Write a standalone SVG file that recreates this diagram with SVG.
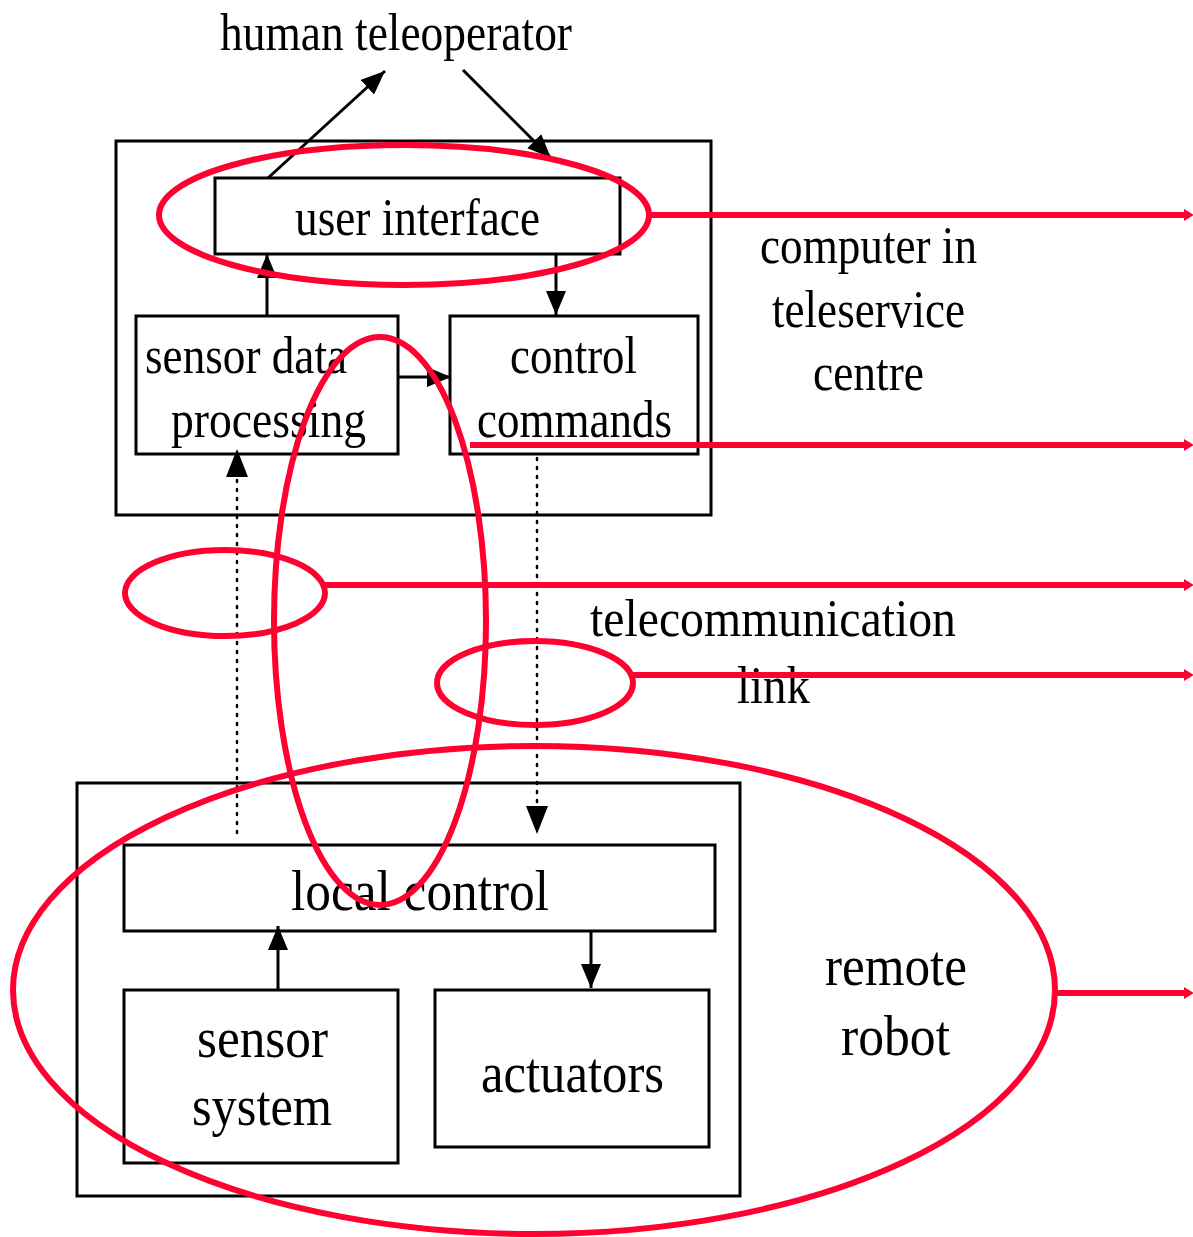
<svg xmlns="http://www.w3.org/2000/svg" width="1193" height="1237" viewBox="0 0 1193 1237">
<style>
.box{fill:none;stroke:#000;stroke-width:3}
.ln{fill:none;stroke:#000;stroke-width:3}
.dot{fill:none;stroke:#000;stroke-width:2.5;stroke-dasharray:2 7;stroke-linecap:round}
.red{fill:none;stroke:#ff0030;stroke-width:6}
.t{font-family:"Liberation Serif","Times New Roman",serif;font-size:52px;fill:#000}
.b{font-size:56px}
</style>
<defs>
<marker id="ah" viewBox="0 0 24 20" refX="24" refY="10" markerWidth="24" markerHeight="20" markerUnits="userSpaceOnUse" orient="auto"><path d="M0,0 L24,10 L0,20 Z" fill="#000"/></marker>
<marker id="rh" viewBox="0 0 10 12" refX="2" refY="6" markerWidth="10" markerHeight="12" markerUnits="userSpaceOnUse" orient="auto"><path d="M0,0 L10,6 L0,12 Z" fill="#ff0030"/></marker>
</defs>
<rect width="1193" height="1237" fill="#fff"/>
<g id="human"><text class="t" x="220" y="50" textLength="352" lengthAdjust="spacingAndGlyphs">human teleoperator</text></g>
<g id="centre-box"><rect class="box" x="116" y="141" width="595" height="374"/>
<text class="t" x="760" y="263" textLength="217" lengthAdjust="spacingAndGlyphs">computer in</text>
<text class="t" x="772" y="327" textLength="193" lengthAdjust="spacingAndGlyphs">teleservice</text>
<text class="t" x="813" y="390" textLength="111" lengthAdjust="spacingAndGlyphs">centre</text></g>
<g id="user-interface"><rect class="box" x="215" y="178" width="405" height="76"/><text class="t" x="295" y="235" textLength="245" lengthAdjust="spacingAndGlyphs">user interface</text></g>
<g id="sensor-data"><rect class="box" x="136" y="316" width="262" height="138"/><text class="t" x="145" y="373" textLength="202" lengthAdjust="spacingAndGlyphs">sensor data</text><text class="t" x="171" y="437" textLength="195" lengthAdjust="spacingAndGlyphs">processing</text></g>
<g id="control-commands"><rect class="box" x="450" y="316" width="248" height="138"/><text class="t" x="510" y="373" textLength="127" lengthAdjust="spacingAndGlyphs">control</text><text class="t" x="477" y="437" textLength="195" lengthAdjust="spacingAndGlyphs">commands</text></g>
<g id="link"><text class="t" x="590" y="636" textLength="366" lengthAdjust="spacingAndGlyphs">telecommunication</text><text class="t" x="737" y="703" textLength="73" lengthAdjust="spacingAndGlyphs">link</text></g>
<g id="robot-box"><rect class="box" x="77" y="783" width="663" height="413"/>
<text class="t b" x="825" y="985" textLength="142" lengthAdjust="spacingAndGlyphs">remote</text>
<text class="t b" x="841" y="1055" textLength="109" lengthAdjust="spacingAndGlyphs">robot</text></g>
<g id="local-control"><rect class="box" x="124" y="845" width="591" height="86"/><text class="t b" x="291" y="910" textLength="258" lengthAdjust="spacingAndGlyphs">local control</text></g>
<g id="sensor-system"><rect class="box" x="124" y="990" width="274" height="173"/><text class="t b" x="197" y="1057" textLength="131" lengthAdjust="spacingAndGlyphs">sensor</text><text class="t b" x="192" y="1125" textLength="140" lengthAdjust="spacingAndGlyphs">system</text></g>
<g id="actuators"><rect class="box" x="435" y="990" width="274" height="157"/><text class="t b" x="481" y="1092" textLength="183" lengthAdjust="spacingAndGlyphs">actuators</text></g>
<g id="connectors">
<line class="ln" x1="268" y1="178" x2="385" y2="71" marker-end="url(#ah)"/>
<line class="ln" x1="463" y1="70" x2="551" y2="158" marker-end="url(#ah)"/>
<line class="ln" x1="267" y1="316" x2="267" y2="254" marker-end="url(#ah)"/>
<line class="ln" x1="556" y1="254" x2="556" y2="315" marker-end="url(#ah)"/>
<line class="ln" x1="398" y1="377" x2="451" y2="377" marker-end="url(#ah)"/>
<line class="dot" x1="237" y1="833" x2="237" y2="476"/>
<path d="M226,477 L237,449 L248,477 Z" fill="#000"/>
<line class="dot" x1="537" y1="458" x2="537" y2="806"/>
<path d="M526,806 L537,834 L548,806 Z" fill="#000"/>
<line class="ln" x1="278" y1="990" x2="278" y2="926" marker-end="url(#ah)"/>
<line class="ln" x1="591" y1="931" x2="591" y2="988" marker-end="url(#ah)"/>
</g>
<g id="highlights">
<ellipse class="red" cx="404" cy="215" rx="245" ry="70"/>
<ellipse class="red" cx="380" cy="621" rx="106" ry="284"/>
<ellipse class="red" cx="225" cy="593" rx="100" ry="43"/>
<ellipse class="red" cx="535" cy="683" rx="98" ry="42"/>
<ellipse class="red" cx="534" cy="990" rx="521" ry="244"/>
<line class="red" x1="649" y1="215" x2="1186" y2="215" marker-end="url(#rh)"/>
<line class="red" x1="470" y1="445" x2="1186" y2="445" marker-end="url(#rh)"/>
<line class="red" x1="325" y1="585" x2="1186" y2="585" marker-end="url(#rh)"/>
<line class="red" x1="633" y1="675" x2="1186" y2="675" marker-end="url(#rh)"/>
<line class="red" x1="1055" y1="993" x2="1186" y2="993" marker-end="url(#rh)"/>
</g>
</svg>
